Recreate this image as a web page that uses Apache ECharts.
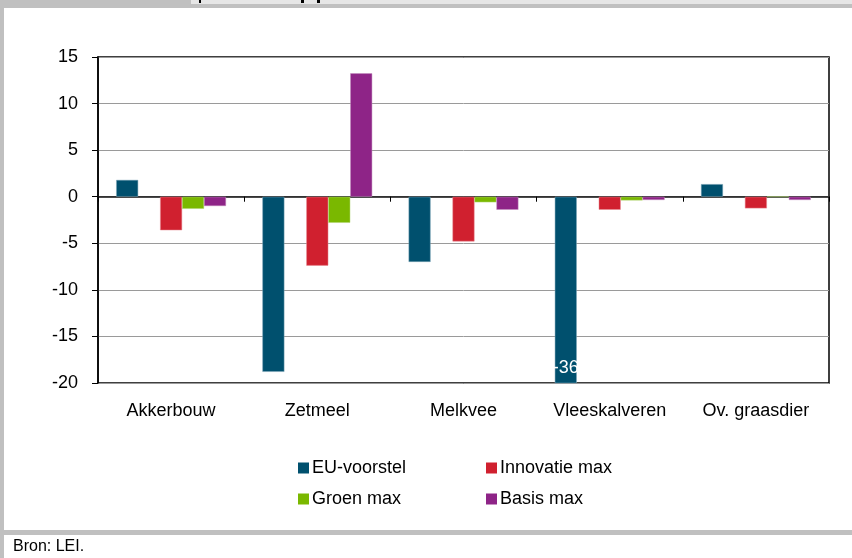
<!DOCTYPE html>
<html>
<head>
<meta charset="utf-8">
<script src="https://cdn.jsdelivr.net/npm/echarts@6/dist/echarts.min.js"></script>
<style>
  html, body { margin: 0; padding: 0; background: #fff; }
  #chart { width: 852px; height: 558px; }
</style>
</head>
<body>
<div id="chart"></div>
<script>
// categorieen en waarden
var categories = ['Akkerbouw', 'Zetmeel', 'Melkvee', 'Vleeskalveren', 'Ov. graasdier'];
var euVoorstel = [1.8, -18.8, -7.0, -36, 1.35];
var leeg = [null, null, null, null, null];   // lege reeks die in Excel ruimte inneemt
var innovatieMax = [-3.6, -7.4, -4.8, -1.4, -1.25];
var groenMax = [-1.3, -2.8, -0.6, -0.4, 0];
var basisMax = [-1.0, 13.25, -1.4, -0.35, -0.35];
var yTicks = { min: -20, max: 15, interval: 5 };

var font = '"Liberation Sans", Arial, sans-serif';

// EU-voorstel bij Vleeskalveren valt buiten de as: waarde als label tonen
var euData = euVoorstel.map(function (v) {
  if (v < yTicks.min) {
    return {
      value: v,
      label: {
        show: true, position: 'insideBottom', distance: 6,
        color: '#fff', fontSize: 18, fontFamily: font,
        formatter: String(v)
      }
    };
  }
  return v;
});

var legendBase = {
  top: 459, orient: 'vertical', itemGap: 13, padding: 0,
  itemWidth: 11, itemHeight: 11, icon: 'rect',
  itemStyle: { borderWidth: 0 },
  textStyle: { fontSize: 18, color: '#000', fontFamily: font, lineHeight: 18, padding: [0, 0, 0, -2] }
};

var chart = echarts.init(document.getElementById('chart'));
var option = {
  animation: false,
  backgroundColor: '#fff',
  textStyle: { fontFamily: font },
  grid: { left: 98, right: 23, top: 57, bottom: 175, show: true, borderColor: '#000', borderWidth: 1.5 },
  legend: [
    Object.assign({}, legendBase, { left: 298, data: ['EU-voorstel', 'Groen max'] }),
    Object.assign({}, legendBase, { left: 486, data: ['Innovatie max', 'Basis max'] })
  ],
  xAxis: [
    {
      type: 'category', data: categories, position: 'bottom',
      axisLine: { show: false, onZero: false },
      axisTick: { show: false },
      axisLabel: { color: '#000', fontSize: 18, margin: 19, interval: 0, fontFamily: font }
    },
    {
      type: 'category', data: categories, position: 'bottom',
      axisLine: { show: true, onZero: true, lineStyle: { color: '#111', width: 1.5 } },
      axisTick: { show: true, length: 5, lineStyle: { color: '#000' } },
      axisLabel: { show: false }
    }
  ],
  yAxis: {
    type: 'value', min: yTicks.min, max: yTicks.max, interval: yTicks.interval,
    axisLine: { show: true, lineStyle: { color: '#000', width: 1.5 } },
    axisTick: { show: true, length: 6, lineStyle: { color: '#000' } },
    axisLabel: { color: '#000', fontSize: 18, margin: 20, fontFamily: font },
    splitLine: { show: true, lineStyle: { color: '#9a9a9a', width: 1 } }
  },
  series: [
    { name: 'EU-voorstel', type: 'bar', data: euData, barGap: '0%', barCategoryGap: '24.9%',
      itemStyle: { color: '#00506e', borderColor: '#7fa6b8', borderWidth: 0.5 } },
    { name: 'leeg', type: 'bar', data: leeg },
    { name: 'Innovatie max', type: 'bar', data: innovatieMax,
      itemStyle: { color: '#d0202f', borderColor: '#e68a92', borderWidth: 0.5 } },
    { name: 'Groen max', type: 'bar', data: groenMax,
      itemStyle: { color: '#7ab800', borderColor: '#b5d77a', borderWidth: 0.5 } },
    { name: 'Basis max', type: 'bar', data: basisMax,
      itemStyle: { color: '#8e2487', borderColor: '#c28fbf', borderWidth: 0.5 } }
  ],
  graphic: [
    { type: 'rect', shape: { x: 0, y: 0, width: 191, height: 4 }, style: { fill: '#c0c0c0' } },
    { type: 'rect', shape: { x: 191, y: 0, width: 661, height: 4 }, style: { fill: '#e6e6e6' } },
    { type: 'rect', shape: { x: 0, y: 4, width: 852, height: 4 }, style: { fill: '#c0c0c0' } },
    { type: 'rect', shape: { x: 0, y: 8, width: 4, height: 550 }, style: { fill: '#c0c0c0' } },
    { type: 'rect', shape: { x: 0, y: 530, width: 852, height: 5 }, style: { fill: '#c0c0c0' } },
    // restjes van de afgesneden titel
    { type: 'rect', shape: { x: 199, y: 0, width: 2, height: 3 }, style: { fill: '#000' } },
    { type: 'rect', shape: { x: 301, y: 0, width: 3, height: 3 }, style: { fill: '#000' } },
    { type: 'rect', shape: { x: 317, y: 0, width: 3, height: 3 }, style: { fill: '#000' } },
    { type: 'text', left: 13, top: 539,
      style: { text: 'Bron: LEI.', fill: '#000', fontSize: 16, fontFamily: font } }
  ]
};
chart.setOption(option);
</script>
</body>
</html>
